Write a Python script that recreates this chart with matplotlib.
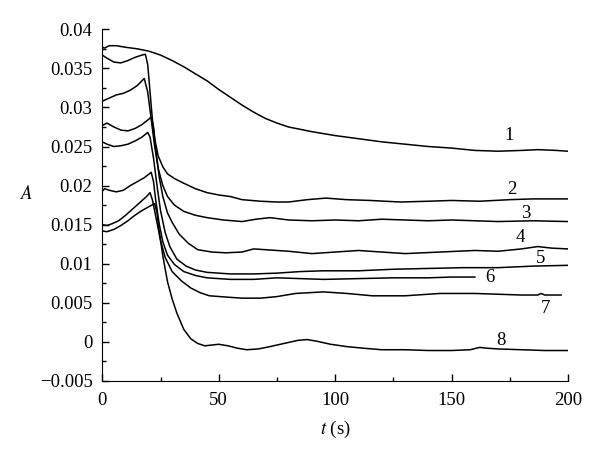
import matplotlib
matplotlib.use("Agg")
import matplotlib.pyplot as plt
from matplotlib.ticker import MultipleLocator, FuncFormatter

plt.rcParams['font.family'] = ['Liberation Serif', 'DejaVu Serif']
plt.rcParams['mathtext.fontset'] = 'stix'

# absorbance curves
t1 = [0, 1, 3, 6, 10, 15, 20, 25, 30, 35, 40, 45, 50, 55, 60, 65, 70, 75, 80,
      90, 100, 110, 120, 130, 140, 150, 160, 170, 180, 187, 195, 200]
A1 = [0.0377, 0.0376, 0.0379, 0.0379, 0.0377, 0.0375, 0.0372, 0.0367, 0.0360,
      0.0352, 0.0343, 0.0334, 0.0323, 0.0313, 0.0303, 0.0294, 0.0286, 0.0280,
      0.0275, 0.0269, 0.0264, 0.0260, 0.0256, 0.0253, 0.0250, 0.0248, 0.0245,
      0.0244, 0.0245, 0.0246, 0.0245, 0.0244]

t2 = [0, 2, 5, 8, 11, 14, 17, 18.5, 19.5, 20.5, 21.5, 22.5, 24, 26, 28, 31,
      35, 40, 45, 50, 55, 60, 68, 75, 80, 88, 96, 105, 115, 128, 140, 150, 162,
      175, 185, 200]
A2 = [0.0367, 0.0363, 0.0358, 0.0357, 0.0360, 0.0364, 0.0367, 0.0368, 0.0355,
      0.0320, 0.0285, 0.0260, 0.0238, 0.0224, 0.0215, 0.0209, 0.0203, 0.0196,
      0.0191, 0.0188, 0.0186, 0.0182, 0.0180, 0.0179, 0.0179, 0.0182, 0.0184,
      0.0182, 0.0181, 0.0179, 0.0180, 0.0181, 0.0180, 0.0182, 0.0183, 0.0183]

t3 = [0, 3, 6, 9, 12, 15, 17, 18, 19.5, 21, 22.5, 24, 26, 28, 31, 35, 40, 45,
      52, 60, 66, 72, 80, 90, 100, 110, 120, 130, 140, 150, 160, 170, 185, 200]
A3 = [0.0308, 0.0312, 0.0316, 0.0318, 0.0322, 0.0328, 0.0334, 0.0337, 0.0320,
      0.0285, 0.0250, 0.0222, 0.0200, 0.0186, 0.0175, 0.0167, 0.0162, 0.0159,
      0.0156, 0.0154, 0.0157, 0.0159, 0.0156, 0.0155, 0.0156, 0.0155, 0.0157,
      0.0156, 0.0155, 0.0156, 0.0155, 0.0154, 0.0155, 0.0154]

t4 = [0, 2, 5, 8, 11, 14, 17, 20, 21, 22, 23, 24.5, 26, 28, 30, 33, 37, 41,
      47, 53, 60, 65, 70, 80, 90, 100, 110, 120, 130, 145, 160, 170, 180, 187,
      193, 200]
A4 = [0.0277, 0.0280, 0.0275, 0.0271, 0.0270, 0.0273, 0.0278, 0.0285, 0.0288,
      0.0275, 0.0245, 0.0210, 0.0186, 0.0165, 0.0153, 0.0138, 0.0126, 0.0118,
      0.0115, 0.0114, 0.0115, 0.0119, 0.0118, 0.0116, 0.0113, 0.0115, 0.0117,
      0.0115, 0.0113, 0.0115, 0.0117, 0.0116, 0.0119, 0.0122, 0.0120, 0.0119]

t5 = [0, 2, 5, 8, 11, 14, 17, 19.5, 20.5, 22, 23.5, 25, 27, 29, 32, 36, 40,
      45, 55, 65, 75, 85, 95, 110, 125, 140, 155, 170, 185, 200]
A5 = [0.0256, 0.0253, 0.0250, 0.0251, 0.0253, 0.0257, 0.0262, 0.0268, 0.0262,
      0.0235, 0.0200, 0.0168, 0.0140, 0.0122, 0.0106, 0.0097, 0.0092, 0.0089,
      0.0087, 0.0087, 0.0088, 0.0090, 0.0091, 0.0091, 0.0093, 0.0094, 0.0095,
      0.0095, 0.0097, 0.0098]

t6 = [0, 1, 3, 6, 9, 12, 15, 18, 21, 22, 23, 24.5, 26, 28, 31, 35, 40, 45,
      55, 65, 75, 85, 95, 110, 125, 140, 150, 160]
A6 = [0.0193, 0.0196, 0.0194, 0.0192, 0.0194, 0.0200, 0.0205, 0.0210, 0.0217,
      0.0205, 0.0180, 0.0150, 0.0128, 0.0111, 0.0099, 0.0090, 0.0085, 0.0082,
      0.0080, 0.0080, 0.0082, 0.0081, 0.0080, 0.0081, 0.0082, 0.0082, 0.0083,
      0.0083]

t7 = [0, 2, 4, 7, 10, 13, 16, 19, 20.5, 21.5, 23, 25, 27, 30, 34, 38, 42, 46,
      55, 60, 68, 75, 83, 95, 105, 116, 130, 145, 160, 170, 180, 187, 188.5,
      190, 197]
A7 = [0.0150, 0.0149, 0.0151, 0.0155, 0.0162, 0.0170, 0.0178, 0.0186, 0.0191,
      0.0182, 0.0160, 0.0130, 0.0108, 0.0090, 0.0078, 0.0069, 0.0063, 0.0059,
      0.0057, 0.0056, 0.0056, 0.0058, 0.0062, 0.0064, 0.0062, 0.0059, 0.0059,
      0.0062, 0.0062, 0.0061, 0.0060, 0.0060, 0.0062, 0.0060, 0.0060]

t8 = [0, 2, 5, 8, 11, 14, 17, 20, 22.5, 23.5, 24.5, 26, 28, 30, 32, 35, 38,
      41, 44, 47, 50, 54, 58, 62, 67, 72, 78, 84, 88, 92, 98, 105, 112, 120,
      130, 140, 150, 158, 162, 165, 170, 180, 190, 200]
A8 = [0.0142, 0.0141, 0.0144, 0.0149, 0.0155, 0.0162, 0.0168, 0.0173, 0.0177,
      0.0165, 0.0140, 0.0110, 0.0077, 0.0055, 0.0037, 0.0016, 0.0004, -0.0002,
      -0.0005, -0.0004, -0.0003, -0.0005, -0.0008, -0.0010, -0.0009, -0.0006,
      -0.0002, 0.0002, 0.0003, 0.0001, -0.0003, -0.0006, -0.0008, -0.0010,
      -0.0010, -0.0011, -0.0011, -0.0010, -0.0007, -0.0008, -0.0009, -0.0010,
      -0.0011, -0.0011]

curve_t = [t1, t2, t3, t4, t5, t6, t7, t8]
curve_A = [A1, A2, A3, A4, A5, A6, A7, A8]

labels = ['1', '2', '3', '4', '5', '6', '7', '8']
label_t = [174.7, 176.0, 182.0, 179.4, 188.4, 166.6, 190.2, 171.3]
label_A = [0.0264, 0.01955, 0.01645, 0.01336, 0.01065, 0.0082, 0.00433, 0.00021]

fig = plt.figure(figsize=(6, 4.54), dpi=100)
ax = fig.add_axes([0.1705, 0.1608, 0.7762, 0.7747])

for t, A in zip(curve_t, curve_A):
    ax.plot(t, A, color='black', lw=1.1)

for lab, tx, ay in zip(labels, label_t, label_A):
    ax.text(tx, ay, lab, fontsize=13.5, ha='center', va='center')

ax.set_xlim(0, 200)
ax.set_ylim(-0.005, 0.04)
ax.xaxis.set_major_locator(MultipleLocator(50))
ax.xaxis.set_minor_locator(MultipleLocator(25))
ax.yaxis.set_major_locator(MultipleLocator(0.005))
ax.yaxis.set_minor_locator(MultipleLocator(0.0025))


def fmt(v, pos):
    s = '%g' % round(v, 4)
    if s == '-0':
        s = '0'
    return s.replace('-', '\u2212')


ax.yaxis.set_major_formatter(FuncFormatter(fmt))
ax.tick_params(which='both', direction='in', top=False, right=False,
               labelsize=13.5, width=1)
ax.tick_params(axis='x', which='major', length=5, pad=8)
ax.tick_params(axis='y', which='major', length=5, pad=7)
ax.tick_params(which='minor', length=3)

ax.spines['top'].set_visible(False)
ax.spines['right'].set_visible(False)

ax.set_xlabel('$t$ (s)', fontsize=13.5)
ax.set_ylabel('$A$', fontsize=13.5, rotation=0)
ax.xaxis.set_label_coords(0.5, -0.108)
ax.yaxis.set_label_coords(-0.162, 0.506)

fig.savefig('out.png', dpi=100)
